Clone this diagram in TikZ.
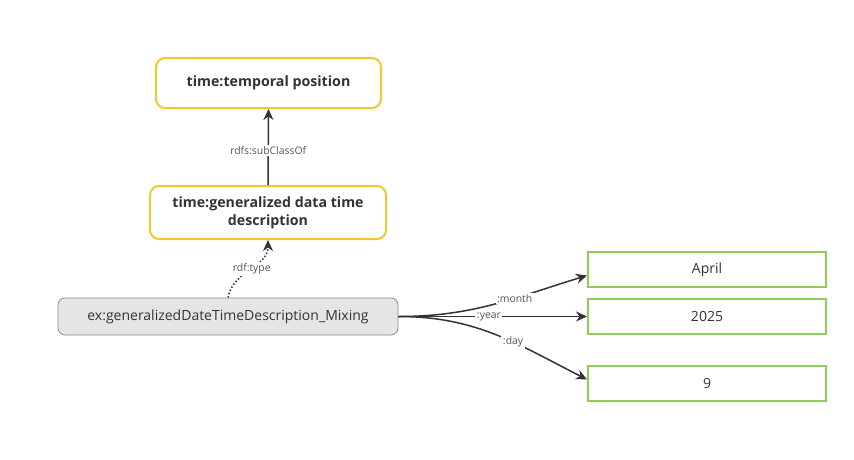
\documentclass[tikz,border=0pt]{standalone}
\usepackage{fontspec}
\setmainfont{Open Sans}
\usetikzlibrary{arrows.meta}
\definecolor{yel}{RGB}{242,200,48}
\definecolor{grn}{RGB}{143,206,84}
\definecolor{ink}{RGB}{51,51,51}
\definecolor{lbl}{RGB}{85,85,85}
\begin{document}
\begin{tikzpicture}[x=1pt,y=-1pt,
  classbox/.style={draw=yel,line width=2pt,rounded corners=9pt,fill=white,text=ink,font=\bfseries\fontsize{14.2}{18}\selectfont,align=center,inner sep=0pt},
  instbox/.style={draw=black!45,line width=0.8pt,rounded corners=7pt,fill=black!10,text=ink,font=\fontsize{14}{16}\selectfont,inner sep=0pt},
  litbox/.style={draw=grn,line width=2pt,fill=white,text=ink,font=\fontsize{14}{16}\selectfont,inner sep=0pt},
  rel/.style={draw=ink,line width=1.5pt,-{Stealth[length=11pt,width=10pt]}},
  edgelbl/.style={fill=white,text=lbl,font=\fontsize{10.4}{12}\selectfont,inner sep=1.5pt}]
\useasboundingbox (0,0) rectangle (854,459);
\node[classbox,minimum width=225pt,minimum height=50pt] (top) at (268.5,83) {time:temporal position};
\node[classbox,minimum width=236pt,minimum height=53pt] (gen) at (268,212.5) {time:generalized data time\\description};
\node[instbox,minimum width=340pt,minimum height=37pt] (main) at (228,316.5) {ex:generalizedDateTimeDescription\_Mixing};
\node[litbox,minimum width=238pt,minimum height=35pt] (apr) at (707,269.5) {April};
\node[litbox,minimum width=238pt,minimum height=35pt] (yr) at (707,316.5) {2025};
\node[litbox,minimum width=238pt,minimum height=35pt] (day) at (707,383.5) {9};

\draw[rel] (gen.north) -- node[edgelbl,pos=0.45] {rdfs:subClassOf} (top.south);
\draw[rel,dotted] (main.north) to[out=80,in=-90] node[edgelbl,pos=0.5,xshift=2pt] {rdf:type} (gen.south);
\draw[rel] (main.east) to[out=0,in=197] node[edgelbl,pos=0.62] {:month} ([yshift=-6pt]apr.west);
\draw[rel] (main.east) -- node[edgelbl,pos=0.48] {:year} (yr.west);
\draw[rel] (main.east) to[out=0,in=153] node[edgelbl,pos=0.6] {:day} ([yshift=4pt]day.west);
\end{tikzpicture}
\end{document}
